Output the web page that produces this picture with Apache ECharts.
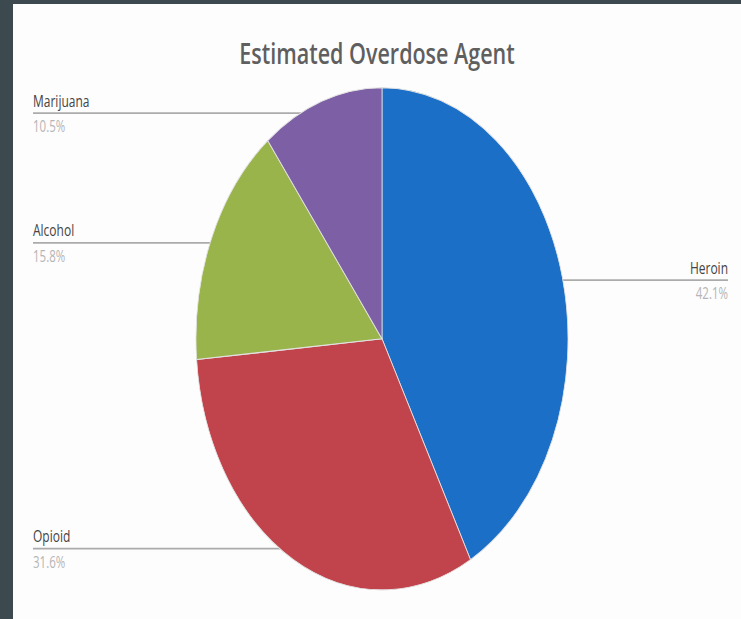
<!DOCTYPE html>
<html>
<head>
<meta charset="utf-8">
<script src="https://cdn.jsdelivr.net/npm/echarts@6/dist/echarts.min.js"></script>
<style>
  html, body { margin: 0; padding: 0; width: 741px; height: 619px; background: #3c4a50; overflow: hidden; }
  #chart {
    position: absolute; left: 13px; top: 4px;
    width: 728px; height: 455.56px;
    background: #fdfdfd;
    transform: scaleY(1.35); transform-origin: 0 0;
  }
</style>
</head>
<body>
<div id="chart"></div>
<script>
const titleText = 'Estimated Overdose Agent';
const categories = ['Heroin', 'Opioid', 'Alcohol', 'Marijuana'];
const values = [8, 6, 3, 2];
const sliceColors = ['#1b6fc7', '#c1434b', '#99b44b', '#7d5fa6'];

const CX = 369, CY = 248, R = 186;

const chart = echarts.init(document.getElementById('chart'), null, { renderer: 'svg' });
chart.setOption({
  animation: false,
  backgroundColor: '#fdfdfd',
  title: {
    text: titleText,
    left: 'center',
    top: 20,
    textStyle: { fontFamily: 'Open Sans', fontSize: 21.5, fontWeight: 600, color: '#5f5f5f' }
  },
  color: sliceColors,
  series: [{
    type: 'pie',
    center: [CX, CY],
    radius: R,
    startAngle: 90,
    clockwise: true,
    percentPrecision: 1,
    silent: true,
    itemStyle: { borderColor: '#e2e2e2', borderWidth: 0.8 },
    emphasis: { disabled: true },
    label: {
      show: true,
      position: 'outside',
      alignTo: 'edge',
      edgeDistance: 20,
      formatter: '{n|{b}}\n{p|{d}%}',
      rich: {
        n: { fontFamily: 'Open Sans', fontSize: 12, color: '#444444', lineHeight: 19 },
        p: { fontFamily: 'Open Sans', fontSize: 11.5, color: '#b5b5b5', lineHeight: 19 }
      }
    },
    labelLine: {
      show: true, length: 0, length2: 10, smooth: false,
      lineStyle: { color: '#ababab', width: 1.3 }
    },
    labelLayout: function (params) {
      const pts = params.labelLinePoints;
      if (!pts) return {};
      const p0 = pts[0];
      const sx = CX + 0.95 * (p0[0] - CX);
      const sy = CY + 0.95 * (p0[1] - CY);
      const left = p0[0] < CX;
      const ex = left ? 20 : 715;
      return {
        x: ex,
        y: sy,
        align: left ? 'left' : 'right',
        verticalAlign: 'middle',
        labelLinePoints: [[sx, sy], [ex, sy]]
      };
    },
    data: categories.map((c, i) => ({ name: c, value: values[i] }))
  }]
});
</script>
</body>
</html>
